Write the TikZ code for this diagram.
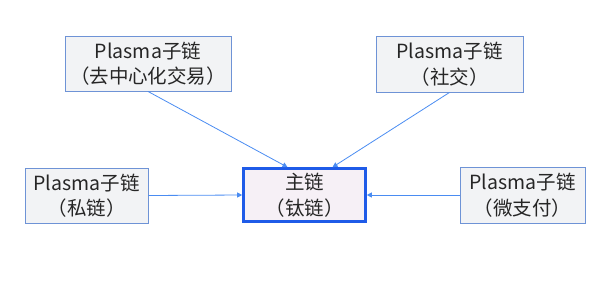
\documentclass[tikz,border=0pt]{standalone}
\usepackage{fontspec}
\setmainfont{Noto Sans CJK SC}
\usetikzlibrary{arrows.meta, positioning}
\definecolor{boxline}{HTML}{6E93D6}
\definecolor{boxfill}{HTML}{F2F3F5}
\definecolor{mainline}{HTML}{1F5BE8}
\definecolor{mainfill}{HTML}{F6F0F6}
\definecolor{linkblue}{HTML}{4A8CF2}

\begin{document}
\begin{tikzpicture}[x=1pt, y=-1pt,
  subchain/.style={rectangle, draw=boxline, fill=boxfill, line width=0.9pt, align=center, inner sep=0pt, font=\fontsize{19.5}{25.5}\selectfont, text=black!85},
  mainchain/.style={rectangle, draw=mainline, fill=mainfill, line width=2.6pt, align=center, inner sep=0pt, minimum width=122pt, minimum height=53pt, font=\fontsize{19.5}{25.5}\selectfont, text=black!85},
  arrow/.style={linkblue, line width=0.8pt, -{Triangle[length=5pt, width=5pt]}}]

\useasboundingbox (0,0) rectangle (600,290);

\node[mainchain] (main) at (304.5,195) {主链\\（钛链）};
\node[subchain, minimum width=166pt, minimum height=55pt] (dex) at (148,63.5) {Plasma子链\\（去中心化交易）};
\node[subchain, minimum width=147pt, minimum height=56pt] (social) at (449.5,64) {Plasma子链\\（社交）};
\node[subchain, minimum width=123pt, minimum height=55pt] (private) at (86.5,195.5) {Plasma子链\\（私链）};
\node[subchain, minimum width=125pt, minimum height=56pt] (micropay) at (522.5,195) {Plasma子链\\（微支付）};

\draw[arrow] (dex.south) -- ([xshift=-17pt]main.north);
\draw[arrow] (social.south) -- ([xshift=28pt]main.north);
\draw[arrow] (private.east) -- (main.west);
\draw[arrow] (micropay.west) -- (main.east);

\end{tikzpicture}
\end{document}
